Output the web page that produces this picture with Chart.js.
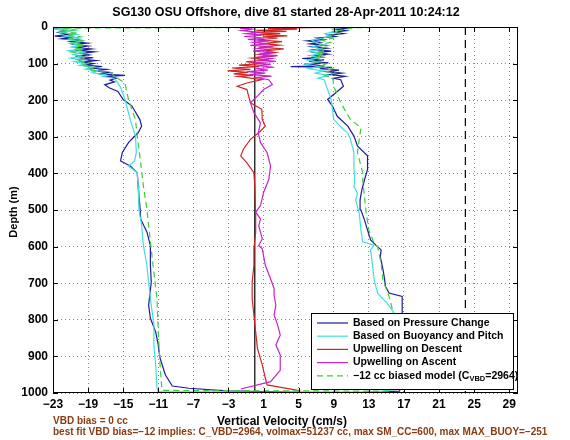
<!DOCTYPE html>
<html>
<head>
<meta charset="utf-8">
<script src="https://cdn.jsdelivr.net/npm/chart.js@4/dist/chart.umd.min.js"></script>
<style>
	html, body { margin: 0; padding: 0; background: #fff; }
</style>
</head>
<body>
<canvas id="diveChart" width="570" height="440"></canvas>
<script>
// [depth (m), vertical velocity (cm/s)], in the order they were drawn
const pressureChange = [
	[0,-9.5],[2,-22.0],[5,-22.6],[10,-21.6],[15,-22.4],[20,-21.2],[25,-22.8],[28,-20.9],[32,-22.0],[36,-20.0],
	[40,-21.0],[44,-19.1],[48,-20.5],[52,-19.0],[56,-20.3],[60,-18.6],[64,-20.1],[68,-18.3],[72,-19.8],[76,-18.9],
	[80,-20.4],[84,-18.4],[88,-19.9],[92,-18.1],[96,-19.6],[100,-18.4],[104,-19.3],[108,-17.4],[112,-18.9],[116,-16.9],
	[120,-18.2],[124,-16.6],[128,-17.8],[132,-14.8],[135,-17.0],[140,-15.8],[145,-16.5],[150,-16.0],[158,-17.1],[166,-16.6],
	[176,-15.6],[198,-15.0],[216,-14.0],[253,-13.1],[271,-12.9],[289,-13.3],[316,-14.4],[343,-15.1],[366,-15.3],[380,-14.2],
	[398,-13.4],[434,-13.3],[488,-13.1],[525,-13.0],[560,-12.3],[597,-11.9],[651,-11.9],[697,-11.8],[760,-12.1],[796,-11.9],
	[833,-11.3],[869,-11.0],[905,-10.8],[950,-10.2],[981,-9.4],[987,-7.5],[994,-3.2],[998,5.2],
	[999,12.0],[995,16.5],[900,17.0],[782,16.8],[736,16.8],[727,15.3],[709,14.9],[682,14.75],[655,14.55],[628,14.3],
	[609,14.4],[596,13.8],[582,13.2],[555,12.85],[527,12.5],[500,12.1],[473,12.0],[445,12.2],[418,12.5],[389,12.85],
	[352,12.85],[325,11.7],[298,11.3],[271,10.6],[244,9.4],[216,8.85],[198,8.3],[176,9.4],[162,10.1],[144,9.8],
	[140,9.0],[135,10.3],[130,8.6],[126,9.9],[122,8.2],[118,9.6],[114,7.4],[110,8.8],[108,4.1],[106,7.9],
	[102,5.6],[98,8.4],[94,6.2],[90,7.9],[86,5.4],[82,7.6],[78,6.5],[74,8.3],[70,6.9],[66,8.7],
	[62,6.8],[58,8.2],[54,6.5],[50,8.0],[46,6.3],[42,7.4],[38,6.0],[34,7.9],[30,7.1],[26,9.2],
	[22,8.4],[18,10.1],[14,9.0],[10,10.4],[6,9.3],[3,10.8],[0,11.5]
];
const buoyancyPitch = [
	[2,-21.8],[6,-22.8],[10,-20.6],[15,-22.1],[20,-20.3],[25,-21.7],[30,-20.0],[35,-21.2],[40,-19.8],[45,-21.0],
	[50,-19.7],[55,-20.9],[60,-19.9],[65,-21.2],[70,-19.6],[75,-20.7],[80,-19.8],[85,-21.0],[90,-19.5],[95,-20.6],
	[100,-19.2],[105,-20.0],[110,-18.5],[115,-19.3],[120,-17.8],[125,-18.5],[130,-17.0],[135,-17.3],[140,-16.1],[150,-15.7],
	[165,-15.3],[198,-14.8],[225,-14.5],[253,-14.2],[298,-13.6],[343,-13.5],[366,-13.7],[380,-14.4],[398,-13.4],[434,-13.3],
	[500,-13.2],[541,-12.9],[597,-12.7],[651,-12.3],[697,-12.1],[742,-11.9],[814,-11.5],[869,-11.5],[923,-11.3],[986,-11.15],
	[996,-11.0],[998,5.0],[997,14.0],[990,16.0],[782,15.9],[755,15.1],[727,14.0],[691,13.6],[646,13.4],[609,13.2],
	[596,13.6],[587,12.3],[555,12.1],[509,11.9],[473,11.5],[454,11.7],[436,11.3],[418,11.4],[389,11.3],[343,11.3],
	[307,10.9],[289,10.6],[280,10.1],[253,9.0],[198,8.7],[144,7.9],[140,7.2],[132,8.4],[126,6.9],[120,7.8],
	[114,6.1],[108,7.4],[102,5.8],[96,7.1],[90,6.0],[84,7.3],[78,6.4],[72,7.6],[66,6.2],[60,7.5],
	[54,6.6],[48,7.8],[42,6.9],[36,6.5],[30,7.8],[24,8.6],[18,8.0],[12,9.3],[6,8.8],[2,9.6],[0,10.2]
];
const upwellingDescent = [
	[0,19.3],[2,6.0],[4,1.5],[6,4.8],[9,0.2],[12,3.6],[15,-0.4],[18,2.9],[21,0.5],[24,3.7],
	[27,0.9],[30,2.6],[35,0.3],[40,3.1],[45,1.0],[50,2.8],[55,0.5],[60,3.3],[65,1.2],[70,2.4],
	[75,0.4],[80,1.9],[85,-0.3],[90,1.6],[95,-1.0],[100,0.8],[104,-1.8],[108,0.5],[112,-2.6],[116,-0.5],
	[120,-3.1],[124,-0.8],[128,-2.4],[132,-0.2],[135,-1.9],[144,0.8],[153,-0.9],[162,-2.0],[171,-0.9],[189,-0.7],
	[207,-0.5],[225,0.8],[253,0.85],[271,1.2],[289,0.45],[307,-0.5],[334,-1.3],[352,-1.6],[371,-0.9],[398,-0.1],
	[434,0.0],[515,0.1],[561,0.1],[606,-0.1],[651,-0.1],[697,-0.3],[742,-0.3],[787,-0.1],[833,0.1],[878,0.3],
	[923,0.85],[959,1.2],[978,1.4],[986,3.3],[994,5.2]
];
const upwellingAscent = [
	[989,-1.6],[969,1.8],[938,2.9],[896,2.9],[869,2.4],[842,2.9],[814,2.6],[787,2.2],[760,2.4],[733,2.2],
	[715,2.2],[688,1.8],[651,1.2],[606,0.85],[597,0.45],[579,0.85],[543,0.45],[524,0.65],[506,0.1],[488,0.65],
	[452,1.0],[416,1.6],[380,1.8],[343,1.4],[316,0.65],[289,0.4],[262,0.65],[234,-0.1],[207,-0.5],[189,0.3],
	[171,1.0],[157,2.0],[144,1.6],[138,0.2],[134,1.9],[130,-0.6],[126,1.2],[122,-0.9],[118,1.5],[114,0.1],
	[110,2.2],[106,0.4],[102,1.8],[98,-0.3],[94,2.4],[90,0.6],[86,1.9],[82,0.2],[78,2.6],[74,0.5],
	[70,2.0],[66,-0.2],[62,1.7],[58,0.3],[54,2.1],[50,-0.5],[46,1.4],[42,-0.1],[38,1.6],[34,-0.8],
	[30,1.1],[26,-1.2],[22,0.8],[18,-1.0],[14,0.4],[10,-1.5],[6,-0.3],[3,-1.7],[0,0.5]
];
const biasedModel = [
	[0,17.8],[3,-22.0],[8,-20.6],[12,-22.4],[17,-20.2],[22,-21.5],[27,-19.9],[32,-21.0],[38,-19.6],[44,-20.8],
	[50,-19.4],[56,-20.6],[62,-19.5],[68,-20.9],[74,-19.3],[80,-20.5],[86,-19.2],[92,-20.3],[98,-18.9],[104,-19.7],
	[110,-18.1],[116,-18.9],[122,-17.4],[126,-16.3],[135,-16.0],[153,-14.8],[198,-14.4],[253,-13.6],[298,-13.4],[353,-13.1],
	[434,-12.7],[498,-12.3],[651,-11.6],[742,-11.15],[833,-11.0],[923,-10.8],[986,-10.6],[993,-10.5],
	[995,15.5],[773,15.7],[736,15.3],[691,14.6],[646,14.4],[600,14.0],[591,13.6],[555,13.0],[509,12.7],[464,12.5],
	[418,12.3],[398,12.3],[343,11.7],[275,12.1],[253,10.9],[207,9.8],[162,9.0],[140,8.9],[132,8.0],[126,9.2],
	[120,7.9],[114,8.8],[108,7.2],[102,8.3],[96,6.9],[90,7.8],[84,6.7],[78,7.9],[72,7.0],[66,8.1],
	[60,7.2],[54,8.4],[48,7.5],[42,8.6],[36,7.7],[30,8.9],[24,8.3],[18,9.6],[12,9.0],[6,10.4],[2,11.2],[0,17.8]
];
const zeroVelocity = 0;
const biasVelocity = 24;
const xTicks = [-23,-19,-15,-11,-7,-3,1,5,9,13,17,21,25,29];
const yTicks = [0,100,200,300,400,500,600,700,800,900,1000];
const seriesNames = [
	'Based on Pressure Change',
	'Based on Buoyancy and Pitch',
	'Upwelling on Descent',
	'Upwelling on Ascent',
	'\u221212 cc biased model (C'
];

const toPoints = (arr) => arr.map((p) => ({ x: p[1], y: p[0] }));
const FONT = '"Liberation Sans", Arial, Helvetica, sans-serif';
const minus = (v) => (v < 0 ? '\u2212' + Math.abs(v) : String(v));

const line = (label, data, color, order, dash) => ({
	label: label,
	data: data,
	showLine: true,
	borderColor: color,
	borderWidth: 1.2,
	borderDash: dash || [],
	pointRadius: 0,
	fill: false,
	order: order,
});

// title, notes, legend box, inward ticks and frame
const decorations = {
	id: 'decorations',
	beforeDraw(chart) {
		const ctx = chart.ctx;
		ctx.save();
		ctx.fillStyle = '#fff';
		ctx.fillRect(0, 0, chart.width, chart.height);
		ctx.restore();
	},
	afterDraw(chart) {
		const ctx = chart.ctx;
		const a = chart.chartArea;
		const xs = chart.scales.x;
		const ys = chart.scales.y;
		ctx.save();

		// frame + inward ticks
		ctx.strokeStyle = '#000';
		ctx.lineWidth = 1;
		ctx.strokeRect(a.left + 0.5, a.top + 0.5, a.right - a.left - 1, a.bottom - a.top - 1);
		ctx.beginPath();
		xTicks.forEach((v) => {
			const px = Math.round(xs.getPixelForValue(v)) + 0.5;
			ctx.moveTo(px, a.bottom); ctx.lineTo(px, a.bottom - 5);
			ctx.moveTo(px, a.top); ctx.lineTo(px, a.top + 5);
		});
		yTicks.forEach((v) => {
			const py = Math.round(ys.getPixelForValue(v)) + 0.5;
			ctx.moveTo(a.left, py); ctx.lineTo(a.left + 5, py);
			ctx.moveTo(a.right, py); ctx.lineTo(a.right - 5, py);
		});
		ctx.stroke();

		// title and axis titles
		ctx.fillStyle = '#000';
		ctx.textAlign = 'center';
		ctx.textBaseline = 'middle';
		ctx.font = 'bold 12.5px ' + FONT;
		ctx.fillText('SG130 OSU Offshore, dive 81 started 28-Apr-2011 10:24:12', 286, 13);
		ctx.font = 'bold 12px ' + FONT;
		ctx.fillText('Vertical Velocity (cm/s)', 282, 422);
		ctx.save();
		ctx.translate(14, 212);
		ctx.rotate(-Math.PI / 2);
		ctx.font = 'bold 11px ' + FONT;
		ctx.fillText('Depth (m)', 0, 0);
		ctx.restore();

		// notes under the axis
		ctx.textAlign = 'left';
		ctx.fillStyle = '#8a3b12';
		ctx.font = 'bold 10px ' + FONT;
		ctx.fillText('VBD bias = 0 cc', 53, 421);
		ctx.fillText('best fit VBD bias=\u221212 implies: C_VBD=2964, volmax=51237 cc, max SM_CC=600, max MAX_BUOY=\u2212251', 53, 432);

		// legend
		const lx = 311, ly = 313, lw = 202, lh = 76;
		ctx.fillStyle = '#fff';
		ctx.fillRect(lx, ly, lw, lh);
		ctx.strokeStyle = '#000';
		ctx.strokeRect(lx + 0.5, ly + 0.5, lw, lh);
		const ds = chart.data.datasets;
		seriesNames.forEach((name, i) => {
			const y = 323 + i * 13.2;
			const d = ds[i];
			ctx.beginPath();
			ctx.strokeStyle = d.borderColor;
			ctx.lineWidth = 1.2;
			ctx.setLineDash(d.borderDash);
			ctx.moveTo(317, y); ctx.lineTo(348, y);
			ctx.stroke();
			ctx.setLineDash([]);
			ctx.fillStyle = '#000';
			ctx.font = 'bold 10.5px ' + FONT;
			ctx.fillText(name, 353, y);
			if (i === 4) {
				let x = 353 + ctx.measureText(name).width;
				ctx.font = 'bold 7.5px ' + FONT;
				ctx.fillText('VBD', x, y + 3);
				x += ctx.measureText('VBD').width;
				ctx.font = 'bold 10.5px ' + FONT;
				ctx.fillText('=2964)', x, y);
			}
		});
		ctx.restore();
	},
};

new Chart(document.getElementById('diveChart'), {
	type: 'scatter',
	data: {
		datasets: [
			line(seriesNames[0], toPoints(pressureChange), '#1c1c9c', 4),
			line(seriesNames[1], toPoints(buoyancyPitch), '#42dede', 3),
			line(seriesNames[2], toPoints(upwellingDescent), '#d02424', 2),
			line(seriesNames[3], toPoints(upwellingAscent), '#c823c8', 1),
			line(seriesNames[4], toPoints(biasedModel), '#3ccc3c', 0, [6, 4]),
			line('zero', [{ x: zeroVelocity, y: 0 }, { x: zeroVelocity, y: 1000 }], '#000', 5),
			line('bias', [{ x: biasVelocity, y: 0 }, { x: biasVelocity, y: 1000 }], '#000', 5, [8, 5]),
		],
	},
	options: {
		responsive: false,
		animation: false,
		layout: { padding: { top: 27, right: 52, bottom: 0, left: 0 } },
		plugins: {
			legend: { display: false },
			title: { display: false },
			tooltip: { enabled: false },
		},
		scales: {
			x: {
				type: 'linear',
				min: -23,
				max: 30,
				afterBuildTicks: (s) => { s.ticks = xTicks.map((v) => ({ value: v })); },
				afterFit: (s) => { s.height = 47; },
				ticks: {
					autoSkip: false,
					maxRotation: 0,
					padding: 4,
					color: '#000',
					font: { family: FONT, size: 12, weight: 'bold' },
					callback: (v) => minus(v),
				},
				grid: { color: 'rgba(0,0,0,0.45)', drawTicks: false },
				border: { display: false, dash: [1, 3] },
			},
			y: {
				type: 'linear',
				reverse: true,
				min: 0,
				max: 1000,
				afterBuildTicks: (s) => { s.ticks = yTicks.map((v) => ({ value: v })); },
				afterFit: (s) => { s.width = 53; },
				ticks: {
					padding: 5,
					color: '#000',
					font: { family: FONT, size: 12, weight: 'bold' },
					callback: (v) => String(v),
				},
				grid: { color: 'rgba(0,0,0,0.45)', drawTicks: false },
				border: { display: false, dash: [1, 3] },
			},
		},
	},
	plugins: [decorations],
});
</script>
</body>
</html>
